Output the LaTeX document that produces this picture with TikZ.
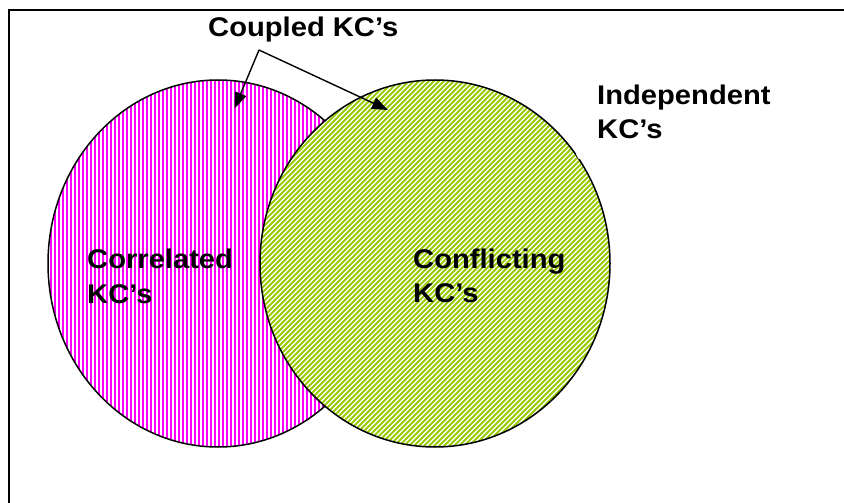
\documentclass[tikz,border=0pt]{standalone}
\usepackage{fontspec}
\setmainfont{Liberation Sans}[FakeStretch=1.08]
\usetikzlibrary{arrows.meta}
\definecolor{kcpink}{RGB}{255,0,255}
\definecolor{kcgreen}{RGB}{153,204,0}
\tikzset{
  lbl/.style={inner sep=0pt, anchor=base west, font=\fontsize{27}{34}\selectfont\bfseries},
  outline/.style={line width=1.5pt},
  pointer/.style={line width=1.4pt, -{Triangle[length=16pt,width=12pt]}},
  pinkstripe/.style={kcpink, line width=2.4pt},
  greenstripe/.style={kcgreen, line width=2pt},
}
\begin{document}
\begin{tikzpicture}[x=1pt,y=-1pt]
\useasboundingbox (0,0) rectangle (844,503);
\fill[white] (0,0) rectangle (844,503);
% frame (right and bottom edges lie outside the picture)
\draw[line width=2pt] (844,10) -- (9,10) -- (9,503);
% correlated set
\fill[white] (218,263.5) ellipse [x radius=170, y radius=183.5];
\begin{scope}
  \clip (218,263.5) ellipse [x radius=170, y radius=183.5];
  \foreach \x in {0,...,86} {
    \draw[pinkstripe] (47+4*\x,75) -- (47+4*\x,452);
  }
\end{scope}
\draw[outline] (218,263.5) ellipse [x radius=170, y radius=183.5];
% conflicting set
\fill[white] (435,263.5) ellipse [x radius=175, y radius=183.5];
\begin{scope}
  \clip (435,263.5) ellipse [x radius=175, y radius=183.5];
  \foreach \c in {0,...,148} {
    \draw[greenstripe] (325+5*\c-470,470) -- (325+5*\c,0);
  }
\end{scope}
\draw[outline] (435,263.5) ellipse [x radius=175, y radius=183.5];
% small gap in the outline
\draw[white, line width=2.5pt] (577.2,153.5) -- (579.8,158.5);
% labels
\node[lbl] (coupled) at (208,37) {Coupled KC’s};
\node[lbl] (indep) at (597,105) {\vtop{\baselineskip=33pt\hbox{Independent}\hbox{KC’s}}};
\node[lbl] (corr) at (87,268) {\vtop{\baselineskip=35pt\hbox{Correlated}\hbox{KC’s}}};
\node[lbl] (confl) at (413,268) {\vtop{\baselineskip=34pt\hbox{Conflicting}\hbox{KC’s}}};
% connectors
\coordinate (apex) at (259,50);
\coordinate (tipL) at (234.5,108.5);
\coordinate (tipR) at (388,110);
\draw[pointer] (apex) -- (tipL);
\draw[pointer] (apex) -- (tipR);
\end{tikzpicture}
\end{document}
